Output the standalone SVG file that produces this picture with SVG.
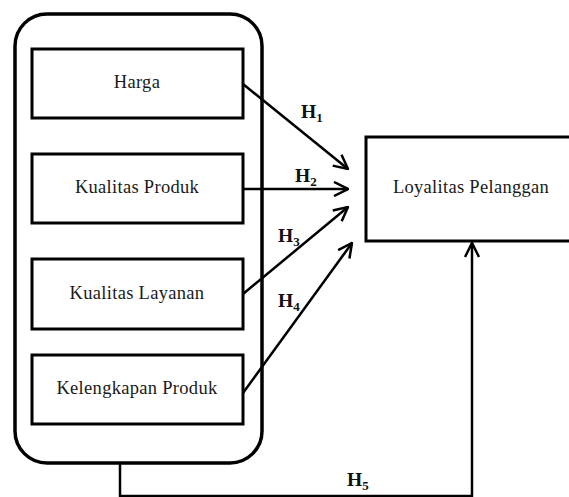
<svg xmlns="http://www.w3.org/2000/svg" width="569" height="497" viewBox="0 0 569 497">
<defs>
<style>
.box{fill:#fff;stroke:#000;stroke-width:3}
.lbl{font-family:"Liberation Serif",serif;font-size:18.5px;fill:#1a1a1a;text-anchor:middle;letter-spacing:0.3px}
.h{font-family:"Liberation Serif",serif;font-size:19.5px;font-weight:bold;fill:#111}
.h tspan{font-size:13px}
.con{fill:none;stroke:#000;stroke-width:2.5}
</style>
<marker id="ah" viewBox="0 0 16 16" refX="15" refY="8" markerWidth="16" markerHeight="16" markerUnits="userSpaceOnUse" orient="auto">
<path d="M1,1 L15,8 L1,15" fill="none" stroke="#000" stroke-width="2.5"/>
</marker>
</defs>
<rect width="569" height="497" fill="#fff"/>
<g id="group">
<rect x="15" y="14" width="247" height="449" rx="32" ry="32" fill="#fff" stroke="#000" stroke-width="3.5"/>
</g>
<g id="harga"><rect class="box" x="32" y="49" width="211" height="69"/><text class="lbl" x="137" y="88">Harga</text></g>
<g id="kualitas-produk"><rect class="box" x="32" y="154" width="211" height="69"/><text class="lbl" x="137" y="193">Kualitas Produk</text></g>
<g id="kualitas-layanan"><rect class="box" x="32" y="259" width="211" height="70"/><text class="lbl" x="137" y="299">Kualitas Layanan</text></g>
<g id="kelengkapan-produk"><rect class="box" x="32" y="355" width="211" height="69"/><text class="lbl" x="137" y="394">Kelengkapan Produk</text></g>
<g id="loyalitas"><rect class="box" x="366" y="137" width="211" height="104"/><text class="lbl" x="471" y="193">Loyalitas Pelanggan</text></g>
<g id="connectors">
<line class="con" x1="243" y1="84" x2="348" y2="169" marker-end="url(#ah)"/>
<line class="con" x1="243" y1="189" x2="348" y2="189" marker-end="url(#ah)"/>
<line class="con" x1="243" y1="294" x2="348" y2="207" marker-end="url(#ah)"/>
<line class="con" x1="243" y1="393" x2="352" y2="243" marker-end="url(#ah)"/>
<polyline class="con" points="120,463 120,496 472,496 472,243" marker-end="url(#ah)"/>
</g>
<g id="labels">
<text class="h" x="301" y="118">H<tspan dy="4">1</tspan></text>
<text class="h" x="295" y="182">H<tspan dy="4">2</tspan></text>
<text class="h" x="278" y="242">H<tspan dy="4">3</tspan></text>
<text class="h" x="278" y="307">H<tspan dy="4">4</tspan></text>
<text class="h" x="347" y="486">H<tspan dy="4">5</tspan></text>
</g>
</svg>
